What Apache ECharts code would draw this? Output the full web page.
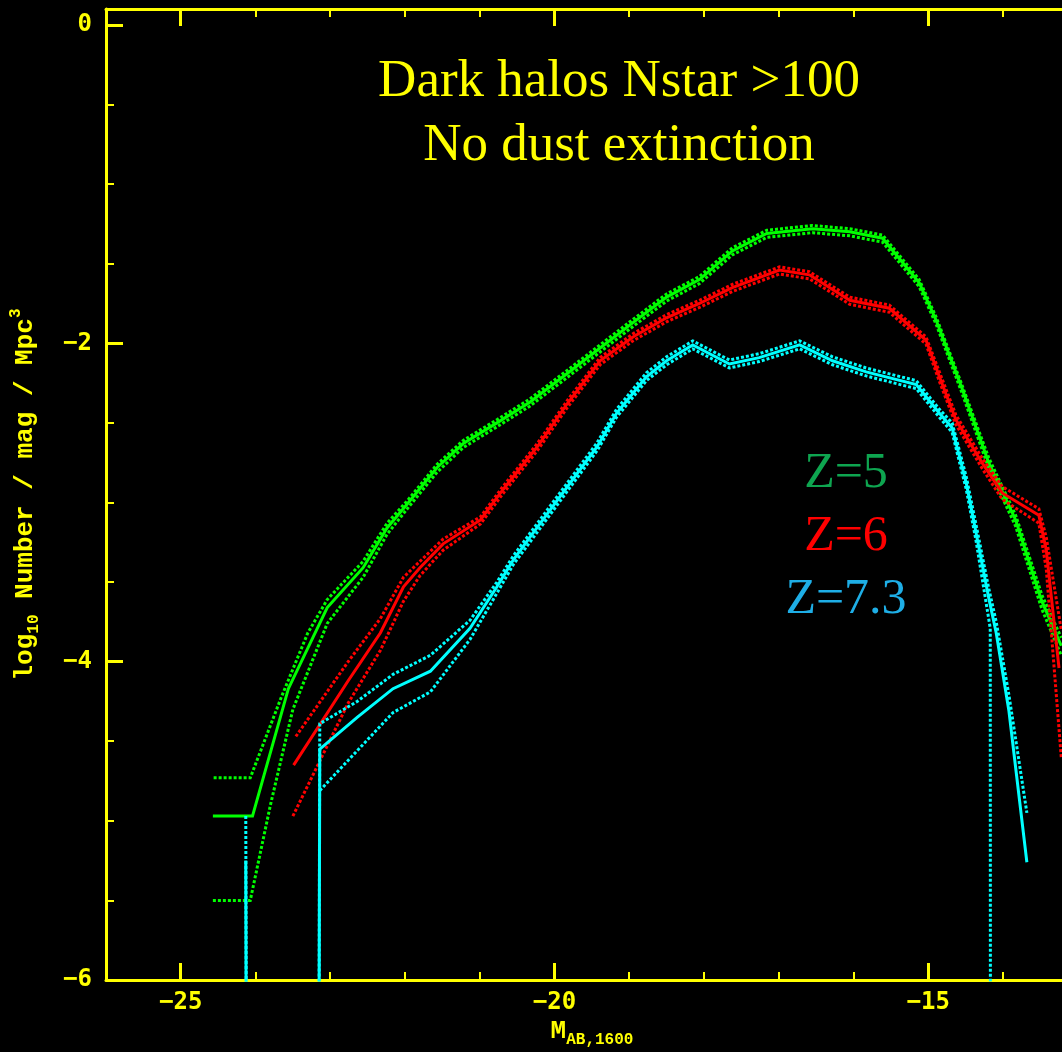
<!DOCTYPE html>
<html>
<head>
<meta charset="utf-8">
<script src="https://cdn.jsdelivr.net/npm/echarts@6/dist/echarts.min.js"></script>
<style>
  html, body { margin: 0; padding: 0; background: #000; }
  #chart { width: 1062px; height: 1052px; }
</style>
</head>
<body>
<div id="chart"></div>
<script>
// UV luminosity functions of dark halos (Nstar > 100), no dust extinction.
// Each redshift: central estimate plus upper / lower Poisson bounds,
// as [M_AB,1600, log10 N / mag / Mpc^3] pairs.

// log10 of an empty magnitude bin: far below the plot floor, so the
// curve drops straight down to the axis there.
const EMPTY_BIN = -99;

const z5Mid = [
  [-24.57, -4.97], [-24.04, -4.97], [-23.56, -4.17], [-23.04, -3.66], [-22.56, -3.41],
  [-22.24, -3.16], [-21.97, -3.01], [-21.57, -2.78], [-21.22, -2.63], [-20.77, -2.50],
  [-20.33, -2.37], [-19.83, -2.19], [-19.39, -2.03], [-18.95, -1.87], [-18.50, -1.71],
  [-18.06, -1.60], [-17.62, -1.42], [-17.16, -1.31], [-16.55, -1.28], [-16.05, -1.30],
  [-15.61, -1.34], [-15.12, -1.62], [-14.89, -1.86], [-14.55, -2.28], [-14.19, -2.75],
  [-13.83, -3.11], [-13.48, -3.62], [-13.22, -3.90]
];
const z5Hi = [
  [-24.56, -4.73], [-24.07, -4.73], [-23.66, -4.23], [-23.30, -3.82], [-23.04, -3.61],
  [-22.56, -3.37], [-22.24, -3.13], [-21.97, -2.99], [-21.57, -2.76], [-21.22, -2.61],
  [-20.77, -2.48], [-20.33, -2.35], [-19.83, -2.17], [-19.39, -2.01], [-18.95, -1.85],
  [-18.50, -1.69], [-18.06, -1.58], [-17.62, -1.40], [-17.16, -1.29], [-16.55, -1.26],
  [-16.05, -1.28], [-15.61, -1.32], [-15.12, -1.60], [-14.89, -1.84], [-14.55, -2.26],
  [-14.19, -2.72], [-13.83, -3.08], [-13.48, -3.58], [-13.22, -3.85]
];
const z5Lo = [
  [-24.57, -5.50], [-24.07, -5.50], [-23.80, -4.90], [-23.50, -4.30], [-23.04, -3.76],
  [-22.56, -3.47], [-22.24, -3.20], [-21.97, -3.04], [-21.57, -2.81], [-21.22, -2.655],
  [-20.77, -2.525], [-20.33, -2.395], [-19.83, -2.215], [-19.39, -2.055], [-18.95, -1.895],
  [-18.50, -1.735], [-18.06, -1.625], [-17.62, -1.445], [-17.16, -1.335], [-16.55, -1.305],
  [-16.05, -1.325], [-15.61, -1.365], [-15.12, -1.645], [-14.89, -1.885], [-14.55, -2.31],
  [-14.19, -2.785], [-13.83, -3.15], [-13.48, -3.67], [-13.22, -3.96]
];

const z6Mid = [
  [-23.49, -4.65], [-22.76, -4.12], [-22.33, -3.82], [-22.02, -3.53], [-21.80, -3.41],
  [-21.49, -3.26], [-20.99, -3.11], [-20.69, -2.92], [-20.23, -2.65], [-19.83, -2.38],
  [-19.39, -2.11], [-18.95, -1.96], [-18.50, -1.84], [-18.06, -1.75], [-17.62, -1.65],
  [-16.99, -1.54], [-16.59, -1.57], [-16.05, -1.73], [-15.52, -1.78], [-15.03, -1.98],
  [-14.85, -2.21], [-14.63, -2.48], [-14.28, -2.75], [-14.01, -2.94], [-13.52, -3.08],
  [-13.42, -3.30], [-13.25, -4.04]
];
const z6Hi = [
  [-23.46, -4.47], [-22.76, -4.00], [-22.33, -3.73], [-22.02, -3.47], [-21.80, -3.37],
  [-21.49, -3.23], [-20.99, -3.09], [-20.69, -2.90], [-20.23, -2.63], [-19.83, -2.36],
  [-19.39, -2.09], [-18.95, -1.94], [-18.50, -1.82], [-18.06, -1.73], [-17.62, -1.63],
  [-16.99, -1.52], [-16.59, -1.55], [-16.05, -1.71], [-15.52, -1.76], [-15.03, -1.96],
  [-14.85, -2.18], [-14.63, -2.45], [-14.28, -2.72], [-14.01, -2.90], [-13.52, -3.04],
  [-13.42, -3.22], [-13.22, -3.80]
];
const z6Lo = [
  [-23.50, -4.97], [-22.76, -4.26], [-22.33, -3.93], [-22.02, -3.62], [-21.80, -3.46],
  [-21.49, -3.30], [-20.99, -3.135], [-20.69, -2.945], [-20.23, -2.675], [-19.83, -2.405],
  [-19.39, -2.135], [-18.95, -1.985], [-18.50, -1.865], [-18.06, -1.775], [-17.62, -1.675],
  [-16.99, -1.565], [-16.59, -1.595], [-16.05, -1.755], [-15.52, -1.805], [-15.03, -2.005],
  [-14.85, -2.24], [-14.63, -2.51], [-14.28, -2.785], [-14.01, -2.98], [-13.52, -3.13],
  [-13.42, -3.42], [-13.22, -4.60]
];

const z73Mid = [
  [-24.13, -5.25], [-23.64, EMPTY_BIN], [-23.14, -4.55], [-22.64, -4.35], [-22.16, -4.17],
  [-21.66, -4.06], [-21.13, -3.79], [-20.77, -3.53], [-20.55, -3.36], [-20.33, -3.22],
  [-19.43, -2.65], [-19.17, -2.44], [-18.77, -2.21], [-18.50, -2.11], [-18.15, -2.01],
  [-17.66, -2.13], [-17.26, -2.09], [-16.72, -2.01], [-16.28, -2.11], [-15.83, -2.18],
  [-15.16, -2.26], [-14.85, -2.44], [-14.68, -2.53], [-14.49, -2.88], [-14.36, -3.19],
  [-14.19, -3.60], [-14.09, -3.82], [-13.92, -4.31], [-13.68, -5.26]
];
const z73Hi = [
  [-24.13, -4.97], [-23.64, EMPTY_BIN], [-23.14, -4.39], [-22.64, -4.25], [-22.16, -4.08],
  [-21.66, -3.96], [-21.13, -3.74], [-20.77, -3.50], [-20.55, -3.335], [-20.33, -3.195],
  [-19.43, -2.625], [-19.17, -2.415], [-18.77, -2.185], [-18.50, -2.085], [-18.15, -1.985],
  [-17.66, -2.105], [-17.26, -2.065], [-16.72, -1.985], [-16.28, -2.085], [-15.83, -2.155],
  [-15.16, -2.235], [-14.85, -2.415], [-14.68, -2.50], [-14.49, -2.84], [-14.36, -3.14],
  [-14.19, -3.54], [-14.09, -3.75], [-13.92, -4.21], [-13.68, -4.95]
];
const z73Lo = [
  [-23.14, -4.81], [-22.64, -4.56], [-22.16, -4.32], [-21.66, -4.19], [-21.13, -3.86],
  [-20.77, -3.57], [-20.55, -3.39], [-20.33, -3.25], [-19.43, -2.675], [-19.17, -2.465],
  [-18.77, -2.235], [-18.50, -2.135], [-18.15, -2.035], [-17.66, -2.155], [-17.26, -2.115],
  [-16.72, -2.035], [-16.28, -2.135], [-15.83, -2.205], [-15.16, -2.285], [-14.85, -2.465],
  [-14.68, -2.56], [-14.49, -2.92], [-14.36, -3.24], [-14.17, -3.79], [-14.09, EMPTY_BIN]
];

// Curve keys, line colours and the redshift labels written beside them
const curveNames  = ['Z=5', 'Z=6', 'Z=7.3'];
const lineColors  = ['#00ff00', '#ff0000', '#00ffff'];
const labelColors = ['#0ea550', '#ff0000', '#1eaee6'];

// Axis ranges and ticks
const xRange = [-26, -13.21];
const yRange = [-6, 0.1];
const xTickLabels = [-25, -20, -15];
const xMinorTicks = [-24, -23, -22, -21, -19, -18, -17, -16, -14];
const yTickLabels = [0, -2, -4, -6];
const yMajorTicks = [0, -2, -4];
const yMinorTicks = [-5.5, -5, -4.5, -3.5, -3, -2.5, -1.5, -1, -0.5];

const titleLines = ['Dark halos Nstar >100', 'No dust extinction'];

const YELLOW = '#ffff00';
const minus = v => (v < 0 ? '\u2212' + Math.abs(v) : String(v));
const tickFont = {
  color: YELLOW, fontFamily: 'DejaVu Sans Mono', fontWeight: 'bold', fontSize: 24
};
const nameFont = { color: YELLOW, fontFamily: 'Liberation Mono', fontWeight: 'bold' };

function xAxis(position, ticks, length, width, withLine, labels, extra) {
  return Object.assign({
    type: 'value', position, min: xRange[0], max: xRange[1],
    axisLine: { show: withLine, onZero: false, lineStyle: { color: YELLOW, width: 3 } },
    axisTick: { show: true, inside: true, length, customValues: ticks,
                lineStyle: { color: YELLOW, width } },
    axisLabel: labels
      ? Object.assign({ show: true, customValues: labels, formatter: minus, margin: 11 }, tickFont)
      : { show: false },
    splitLine: { show: false }
  }, extra || {});
}

function yAxis(ticks, length, width, withLine, labels, extra) {
  return Object.assign({
    type: 'value', position: 'left', min: yRange[0], max: yRange[1],
    axisLine: { show: withLine, onZero: false, lineStyle: { color: YELLOW, width: 3 } },
    axisTick: { show: true, inside: true, length, customValues: ticks,
                lineStyle: { color: YELLOW, width } },
    axisLabel: labels
      ? Object.assign({ show: true, customValues: labels, formatter: minus, margin: 14 }, tickFont)
      : { show: false },
    splitLine: { show: false }
  }, extra || {});
}

function curve(data, color, dotted, z) {
  return {
    type: 'line', data, z, clip: true, showSymbol: false, symbol: 'none',
    animation: false, silent: true,
    lineStyle: { color, width: 3, type: dotted ? [3, 2] : 'solid', cap: 'butt', join: 'miter' }
  };
}

const curveSets = [
  [z5Mid, z5Hi, z5Lo],
  [z6Mid, z6Hi, z6Lo],
  [z73Mid, z73Hi, z73Lo]
];
const series = [];
curveSets.forEach((set, i) => {
  series.push(curve(set[1], lineColors[i], true, 2 + i));
  series.push(curve(set[2], lineColors[i], true, 2 + i));
  series.push(curve(set[0], lineColors[i], false, 2 + i));
});

const chart = echarts.init(document.getElementById('chart'), null, { renderer: 'canvas' });
chart.setOption({
  backgroundColor: '#000000',
  animation: false,
  grid: { left: 106, right: 0, top: 9, bottom: 72, containLabel: false, outerBoundsMode: 'none' },
  xAxis: [
    xAxis('bottom', xMinorTicks, 8, 2, true, null, {
      name: '{t|M}{s|AB,1600}',
      nameLocation: 'middle', nameGap: 34,
      nameTextStyle: {
        padding: [0, 0, 0, 16],
        rich: {
          t: Object.assign({ fontSize: 26, lineHeight: 34, verticalAlign: 'middle' }, nameFont),
          s: Object.assign({ fontSize: 16, lineHeight: 16, verticalAlign: 'bottom' }, nameFont)
        }
      }
    }),
    xAxis('bottom', xTickLabels, 17, 3, false, xTickLabels),
    xAxis('top', xMinorTicks, 8, 2, true, null),
    xAxis('top', xTickLabels, 17, 3, false, null)
  ],
  yAxis: [
    yAxis(yMinorTicks, 8, 2, true, null, {
      name: '{t|log}{s|10}{t| Number / mag / Mpc}{p|3}',
      nameLocation: 'middle', nameGap: 64, nameRotate: 90,
      nameTextStyle: {
        rich: {
          t: Object.assign({ fontSize: 26, lineHeight: 34, verticalAlign: 'middle' }, nameFont),
          s: Object.assign({ fontSize: 16, lineHeight: 16, verticalAlign: 'bottom' }, nameFont),
          p: Object.assign({ fontSize: 16, lineHeight: 16, verticalAlign: 'top' }, nameFont)
        }
      }
    }),
    yAxis(yMajorTicks, 17, 3, false, yTickLabels)
  ],
  series,
  graphic: [
    {
      type: 'text', x: 619, y: 82, z: 10, silent: true,
      style: { text: titleLines[0], fill: YELLOW, fontFamily: 'Liberation Serif',
               fontSize: 53, align: 'center', verticalAlign: 'middle' }
    },
    {
      type: 'text', x: 619, y: 146, z: 10, silent: true,
      style: { text: titleLines[1], fill: YELLOW, fontFamily: 'Liberation Serif',
               fontSize: 53, align: 'center', verticalAlign: 'middle' }
    }
  ].concat(curveNames.map((name, i) => ({
    type: 'text', x: 846, y: 474 + i * 63, z: 10, silent: true,
    style: { text: name, fill: labelColors[i], fontFamily: 'Liberation Serif',
             fontSize: 50, align: 'center', verticalAlign: 'middle' }
  })))
});
</script>
</body>
</html>
